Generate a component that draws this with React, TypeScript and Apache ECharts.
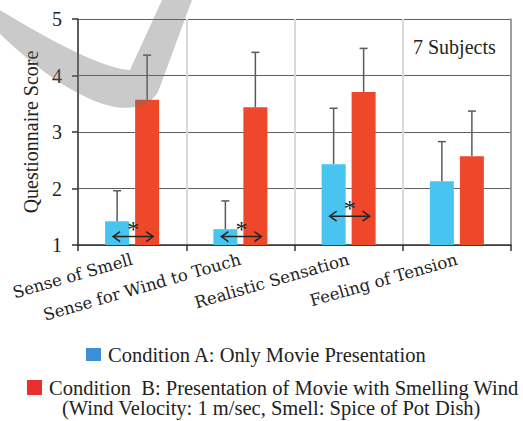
import React, { useEffect, useRef } from "react";
import * as echarts from "echarts";

const categories = ["Sense of Smell", "Sense for Wind to Touch", "Realistic Sensation", "Feeling of Tension"];
const nameA = "Condition A: Only Movie Presentation";
const nameB = "Condition  B: Presentation of Movie with Smelling Wind";
const noteB = "(Wind Velocity: 1 m/sec, Smell: Spice of Pot Dish)";
const meanA = [1.42, 1.28, 2.43, 2.13];
const upperA = [1.96, 1.78, 3.42, 2.83];
const meanB = [3.57, 3.44, 3.71, 2.57];
const upperB = [4.36, 4.41, 4.48, 3.37];
// significance markers: [category index, arrow level]
const sigMarks = [
  [0, 1.15],
  [1, 1.15],
  [2, 1.51],
];
const subjectsNote = "7 Subjects";

const SERIF = "Liberation Serif";
const XSERIF = "DejaVu Serif";

const swooshPath =
  "M0 10 Q95 68 130 70 L162 0 L192 0 L158 92 C150 105 135 110 115 107 C80 100 40 72 0 34 Z";

export default function App() {
  const ref = useRef<HTMLDivElement>(null);
  useEffect(() => {
    if (!ref.current) return;
    echarts.graphic.registerShape("logo", echarts.graphic.extendPath(swooshPath, {}) as any);
    const chart = echarts.init(ref.current, null, { renderer: "svg" });
    const errRender = (offset: number) => (params: any, api: any) => {
      const p0 = api.coord([api.value(0), api.value(1)]);
      const p1 = api.coord([api.value(0), api.value(2)]);
      const x = p0[0] + offset;
      const st = { stroke: "#5a5a5a", lineWidth: 1.5 };
      return {
        type: "group",
        children: [
          { type: "line", shape: { x1: x, y1: p0[1], x2: x, y2: p1[1] }, style: st },
          { type: "line", shape: { x1: x - 4, y1: p1[1], x2: x + 4, y2: p1[1] }, style: st },
        ],
      };
    };
    const option: any = {
      animation: false,
      grid: { left: 78, right: 12, top: 19, bottom: 176 },
      legend: [
        {
          left: 86,
          top: 344,
          padding: 0,
          itemWidth: 15,
          itemHeight: 13,
          icon: "rect",
          textStyle: { fontFamily: SERIF, fontSize: 20.5, color: "#222", padding: [0, 0, 0, 2] },
          data: [{ name: nameA, itemStyle: { color: "#3b8fd6" } }],
        },
        {
          left: 27,
          top: 377,
          padding: 0,
          itemWidth: 15,
          itemHeight: 15,
          icon: "rect",
          textStyle: { fontFamily: SERIF, fontSize: 20.5, color: "#222", padding: [0, 0, 0, 2] },
          data: [{ name: nameB, itemStyle: { color: "#e8302c" } }],
        },
      ],
      graphic: [
        {
          type: "text",
          left: 62,
          top: 397,
          style: { text: noteB, fontFamily: SERIF, fontSize: 20.5, fill: "#222" },
        },
        {
          type: "text",
          left: 413,
          top: 37,
          style: { text: subjectsNote, fontFamily: SERIF, fontSize: 20, fill: "#222" },
        },
        {
          type: "logo",
          x: 0,
          y: 0,
          z: 100,
          silent: true,
          style: { fill: "rgba(110,110,110,0.37)" },
        },
      ],
      xAxis: {
        type: "category",
        data: categories,
        boundaryGap: true,
        axisLine: { lineStyle: { color: "#333", width: 1.5 } },
        axisTick: { show: true, alignWithLabel: false, length: 6, lineStyle: { color: "#333", width: 1.5 } },
        axisLabel: {
          rotate: 16,
          margin: 14,
          interval: 0,
          fontFamily: XSERIF,
          fontSize: 16.5,
          color: "#222",
        },
        splitLine: { show: true, lineStyle: { color: "#d9d9d9", width: 2 } },
      },
      yAxis: [
        {
          type: "value",
          min: 1,
          max: 5,
          interval: 1,
          name: "Questionnaire Score",
          nameLocation: "middle",
          nameGap: 34,
          nameTextStyle: { fontFamily: SERIF, fontSize: 20, color: "#222" },
          axisLine: { show: true, lineStyle: { color: "#333", width: 1.5 } },
          axisTick: { show: true, length: 6, lineStyle: { color: "#333", width: 1.5 } },
          axisLabel: { margin: 16, fontFamily: SERIF, fontSize: 20, color: "#222" },
          splitLine: { show: true, lineStyle: { color: "#5f5f5f", width: 1 } },
        },
        {
          type: "value",
          min: 1,
          max: 5,
          interval: 1,
          position: "right",
          axisLine: { show: true, lineStyle: { color: "#8a8a8a", width: 1.5 } },
          axisTick: { show: false },
          axisLabel: { show: false },
          splitLine: { show: false },
        },
      ],
      series: [
        {
          name: nameA,
          type: "bar",
          data: meanA,
          barWidth: 24,
          barGap: "25%",
          itemStyle: { color: "#47c4ef" },
        },
        {
          name: nameB,
          type: "bar",
          data: meanB,
          barWidth: 24,
          barGap: "25%",
          itemStyle: { color: "#ef472a" },
        },
        {
          name: "errA",
          type: "custom",
          z: 3,
          renderItem: errRender(-15),
          encode: { x: 0, y: [1, 2] },
          data: meanA.map((m, i) => [i, m, upperA[i]]),
        },
        {
          name: "errB",
          type: "custom",
          z: 3,
          renderItem: errRender(15),
          encode: { x: 0, y: [1, 2] },
          data: meanB.map((m, i) => [i, m, upperB[i]]),
        },
        {
          name: "sig",
          type: "custom",
          z: 4,
          encode: { x: 0, y: 1 },
          data: sigMarks,
          renderItem: (params: any, api: any) => {
            const p = api.coord([api.value(0), api.value(1)]);
            const cx = p[0] + 1;
            const y = p[1];
            const st = { stroke: "#222", lineWidth: 1.5, fill: "none" };
            return {
              type: "group",
              children: [
                { type: "line", shape: { x1: cx - 20, y1: y, x2: cx + 20, y2: y }, style: st },
                {
                  type: "polyline",
                  shape: { points: [[cx - 13, y - 5], [cx - 20, y], [cx - 13, y + 5]] },
                  style: st,
                },
                {
                  type: "polyline",
                  shape: { points: [[cx + 13, y - 5], [cx + 20, y], [cx + 13, y + 5]] },
                  style: st,
                },
                {
                  type: "text",
                  x: cx,
                  y: y - 8,
                  style: {
                    text: "*",
                    fontFamily: SERIF,
                    fontSize: 24,
                    fill: "#222",
                    align: "center",
                    verticalAlign: "middle",
                  },
                },
              ],
            };
          },
        },
      ],
    };
    chart.setOption(option);
    return () => chart.dispose();
  }, []);
  return (
    <div
      ref={ref}
      style={{ position: "absolute", left: 0, top: 0, width: 523, height: 421 }}
    />
  );
}
